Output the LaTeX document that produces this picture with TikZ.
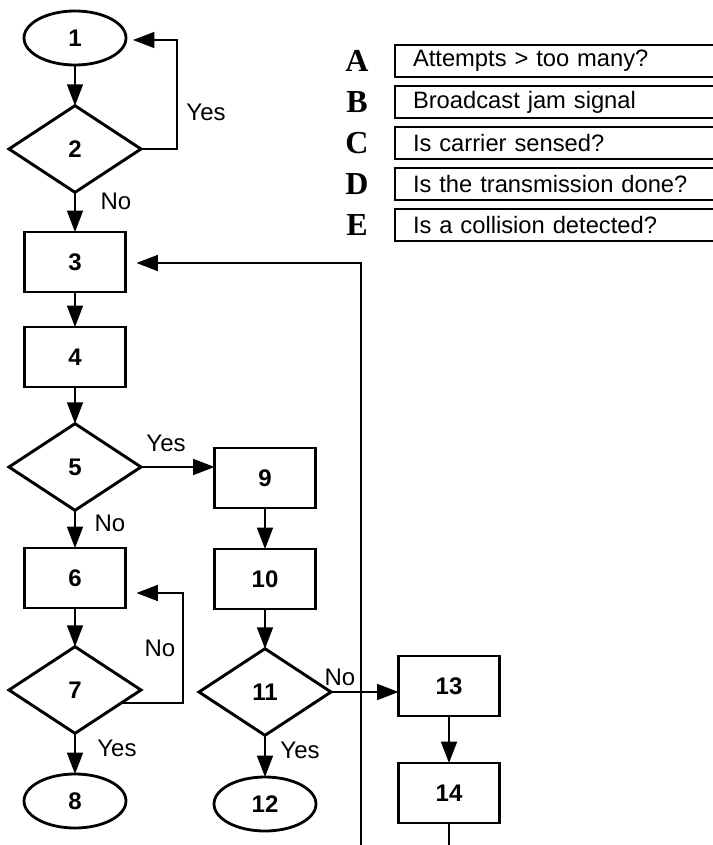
\documentclass[tikz,border=0pt]{standalone}
\usepackage{fontspec}
\setmainfont{Liberation Sans}
\newfontfamily\legendletter{Liberation Serif}
\usetikzlibrary{shapes.geometric,arrows.meta,calc}

\begin{document}
\begin{tikzpicture}[x=0.75pt,y=-0.75pt,
  every node/.style={inner sep=0pt,outer sep=0pt},
  numfont/.style={font=\fontsize{18}{18}\selectfont\bfseries},
  proc/.style={draw,line width=2.2pt,rectangle,minimum width=75.75pt,minimum height=45pt,numfont},
  decision/.style={draw,line width=2.2pt,diamond,minimum width=99pt,minimum height=65pt,numfont},
  terminal/.style={draw,line width=2.1pt,ellipse,minimum width=76.5pt,minimum height=40.5pt,numfont},
  arr/.style={line width=1.1pt,-{Triangle[length=16pt,width=12pt]}},
  plain/.style={line width=1.1pt},
  lbl/.style={font=\fontsize{18}{18}\selectfont},
  legbox/.style={draw,line width=1.4pt,anchor=west,text width=240pt,inner xsep=13.5pt,
    minimum height=24pt,align=left,font=\fontsize{17.8}{17.8}\selectfont},
  legletter/.style={font=\legendletter\bfseries\fontsize{24}{24}\selectfont}]

\useasboundingbox (0,0) rectangle (713,845);
\clip (0,0) rectangle (713,845);

% left column
\node[terminal] (e1) at (75,38) {1};
\node[decision] (d2) at (75,149) {2};
\node[proc] (b3) at (75,262) {3};
\node[proc] (b4) at (75,357) {4};
\node[decision] (d5) at (75,467) {5};
\node[proc] (b6) at (75,578) {6};
\node[decision] (d7) at (75,690) {7};
\node[terminal] (e8) at (75,801) {8};

% middle column
\node[proc] (b9) at (265,478) {9};
\node[proc] (b10) at (265,579) {10};
\node[decision] (d11) at (265,692) {11};
\node[terminal] (e12) at (265,804) {12};

% right column
\node[proc] (b13) at (449,686) {13};
\node[proc] (b14) at (449,793) {14};

% straight flow
\draw[arr] (e1) -- (d2);
\draw[arr] (d2) -- (b3);
\draw[arr] (b3) -- (b4);
\draw[arr] (b4) -- (d5);
\draw[arr] (d5) -- (b6);
\draw[arr] (b6) -- (d7);
\draw[arr] (d7) -- (e8);
\draw[arr] (d5.east) -- (d5.east -| b9.west);
\draw[arr] (b9) -- (b10);
\draw[arr] (b10) -- (d11);
\draw[arr] (d11) -- (e12);
\draw[arr] (d11.east) -- (d11.east -| b13.west);
\draw[arr] (b13) -- (b14);
\coordinate (out14) at (449,870);
\draw[plain] (b14.south) -- (out14);

% loop 2 -> 1
\coordinate (k1) at (177,40);
\draw[arr] (d2.east) -| (k1) -- ([xshift=5.25pt]e1.east |- k1);

% loop 7 -> 6
\coordinate (s7) at ($(d7.east)!0.3!(d7.south)$);
\coordinate (k7) at (183,593);
\draw[arr] (s7) -| (k7) -- ([xshift=8.25pt]b6.east |- k7);

% long return to 3
\coordinate (kb) at (361,870);
\coordinate (k3) at (361,263);
\draw[arr] (kb) -- (k3) -- ([xshift=8.25pt]b3.east |- k3);

% branch labels
\node[lbl] (t2y) at (206,112) {Yes};
\node[lbl] (t2n) at (116,201) {No};
\node[lbl] (t5y) at (166,443) {Yes};
\node[lbl] (t5n) at (110,523) {No};
\node[lbl] (t7n) at (160,648) {No};
\node[lbl] (t7y) at (117,748) {Yes};
\node[lbl] (t11n) at (340,677) {No};
\node[lbl] (t11y) at (300,750) {Yes};

% legend
\node[legletter] (gA) at (357,61) {A};
\node[legletter] (gB) at (357,102) {B};
\node[legletter] (gC) at (357,143) {C};
\node[legletter] (gD) at (357,184) {D};
\node[legletter] (gE) at (357,225) {E};
\node[legbox] (lA) at (395,61) {Attempts > too many?};
\node[legbox] (lB) at (395,102) {Broadcast jam signal};
\node[legbox] (lC) at (395,143) {Is carrier sensed?};
\node[legbox] (lD) at (395,184) {Is the transmission done?};
\node[legbox] (lE) at (395,225) {Is a collision detected?};

\end{tikzpicture}
\end{document}
